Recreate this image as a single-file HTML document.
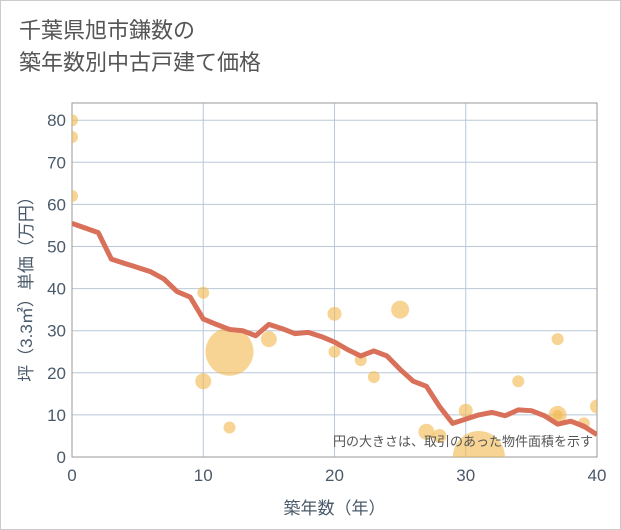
<!DOCTYPE html>
<html><head><meta charset="utf-8"><style>
body{margin:0;background:#fff;font-family:"Liberation Sans","Noto Sans CJK JP",sans-serif;}
#wrap{position:relative;width:619px;height:528px;border:1px solid #ccc;background:#fff;}
.title{position:absolute;left:18px;top:14px;font-size:22px;line-height:32px;color:#555;}
</style></head><body>
<div id="wrap">
<div class="title">千葉県旭市鎌数の<br>築年数別中古戸建て価格</div>
<svg id="chart" width="621" height="530" style="position:absolute;left:-1px;top:-1px"><defs><clipPath id="pc"><rect x="72" y="103" width="525" height="354"/></clipPath></defs></svg>
</div>
<script>
const lineYears=[0,2,3,4,5,6,7,8,9,10,11,12,13,14,15,16,17,18,19,20,21,22,23,24,25,26,27,28,29,30,31,32,33,34,35,36,37,38,39,40];
const lineValues=[55.5,53.3,47,46,45,44,42.3,39.3,38,32.8,31.5,30.3,30,28.8,31.5,30.5,29.3,29.6,28.6,27.3,25.5,24,25.2,24,20.8,18,16.8,12,8,9,10,10.6,9.8,11.2,11,9.8,7.8,8.5,7.3,5.3];
const bubbleX=[0,0,0,10,10,12,12,15,20,20,22,23,25,27,28,30,31,34,37,37,37,39,40];
const bubbleY=[80,76,62,39,18,25,7,28,34,25,23,19,35,6,5,11,0,18,28,10,10,8,12];
const bubbleR=[6,6,6,6,8,24,6,8,7,6,6,6,9,8,7,7,26,6,6,9,5,6,7];
const xTicks=[0,10,20,30,40];
const yTicks=[0,10,20,30,40,50,60,70,80];
const L=72,R=597,T=103,B=457;
const sx=v=>L+v/40*(R-L);
const sy=v=>B-v*4.21;
const svg=document.getElementById('chart');
const NS='http://www.w3.org/2000/svg';
function mk(t,a,parent){const e=document.createElementNS(NS,t);for(const k in a)e.setAttribute(k,a[k]);(parent||svg).appendChild(e);return e;}
yTicks.forEach(v=>{
 const g=mk('line',{x1:L,x2:R,y1:sy(v),y2:sy(v),stroke:'#b8c8d8','stroke-width':1});
 
 
 const t=mk('text',{x:L-6,y:sy(v)+6,'text-anchor':'end','font-size':17,fill:'#4a5a6a'});
 t.textContent=v;
 
 
});
xTicks.forEach(v=>{
 const g=mk('line',{x1:sx(v),x2:sx(v),y1:T,y2:B,stroke:'#b8c8d8','stroke-width':1});
 
 
 const t=mk('text',{x:sx(v),y:B+24,'text-anchor':'middle','font-size':17,fill:'#4a5a6a'});
 t.textContent=v;
 
 
});
const fr=mk('rect',{x:L,y:T,width:R-L,height:B-T,fill:'none',stroke:'#999','stroke-width':1});


const plot=mk('g',{'clip-path':'url(#pc)'});


bubbleX.forEach((x,i)=>{
 const c=mk('circle',{cx:sx(x),cy:sy(bubbleY[i]),r:bubbleR[i],fill:'#f2b84b','fill-opacity':0.6},plot);
 
 
});
const p=mk('polyline',{points:lineYears.map((x,i)=>sx(x)+','+sy(lineValues[i])).join(' '),fill:'none',stroke:'#d9705a','stroke-width':5,'stroke-linejoin':'round'},plot);


const n=mk('text',{x:R-4,y:B-11,'text-anchor':'end','font-size':13,fill:'#555'});
n.textContent='円の大きさは、取引のあった物件面積を示す';


const xt=mk('text',{x:(L+R)/2,y:514,'text-anchor':'middle','font-size':17,fill:'#4a5a6a'});
xt.textContent='築年数（年）';


const yt=mk('text',{x:0,y:0,'text-anchor':'middle','font-size':17,fill:'#4a5a6a',transform:'translate(32,'+((T+B)/2+5)+') rotate(-90)'});
yt.textContent='坪（3.3㎡）単価（万円）';


</script>
</body></html>
